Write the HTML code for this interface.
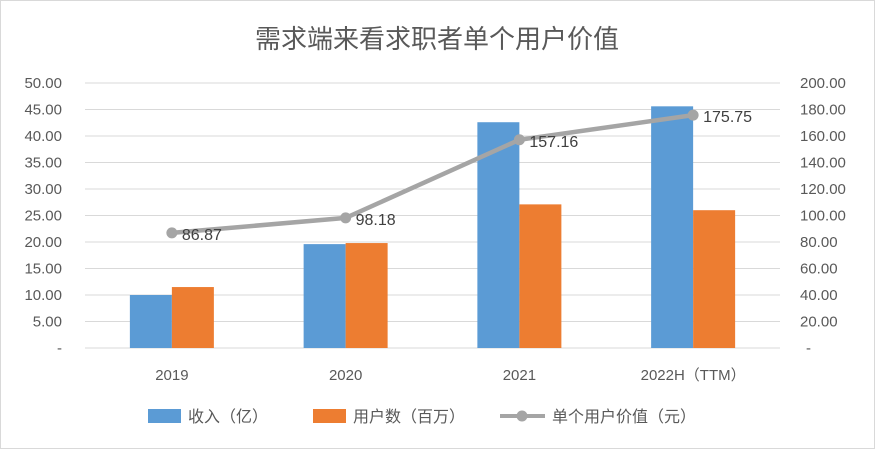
<!DOCTYPE html>
<html><head><meta charset="utf-8"><style>
body{margin:0;background:#fff}
svg text{font-family:"Liberation Sans","Noto Sans CJK SC",sans-serif}
</style></head><body>
<svg width="875" height="449">
<rect x="0.5" y="0.5" width="874" height="448" fill="#fff" stroke="#d9d9d9"/>
<text x="437" y="48" text-anchor="middle" font-size="26" fill="#595959">需求端来看求职者单个用户价值</text>
<g id="grid"></g><g id="bars"></g><g id="line"></g><g id="labels"></g>
<g>
<rect x="148" y="409" width="33" height="14" fill="#5b9bd5"/>
<text x="188" y="422" font-size="16" fill="#595959">收入（亿）</text>
<rect x="313" y="409" width="33" height="14" fill="#ed7d31"/>
<text x="353" y="422" font-size="16" fill="#595959">用户数（百万）</text>
<line x1="500" y1="416" x2="545" y2="416" stroke="#a5a5a5" stroke-width="4"/>
<circle cx="522" cy="416" r="5.5" fill="#a5a5a5"/>
<text x="552" y="422" font-size="16" fill="#595959">单个用户价值（元）</text>
</g>
</svg>
<script>
const categories=["2019","2020","2021","2022H（TTM）"];
const revenue=[10,19.6,42.6,45.6];
const users=[11.5,19.8,27.1,26];
const userValue=[86.87,98.18,157.16,175.75];
const leftTicks=[0,5,10,15,20,25,30,35,40,45,50];
const rightTicks=[0,20,40,60,80,100,120,140,160,180,200];
const NS="http://www.w3.org/2000/svg";
const X0=85,X1=780,Y0=348,Y1=83;
const yL=v=>Y0-(v/50)*(Y0-Y1);
const yR=v=>Y0-(v/200)*(Y0-Y1);
const band=(X1-X0)/categories.length;
const xc=i=>X0+band*(i+0.5);
function mk(tag,attrs,parent,txt){const e=document.createElementNS(NS,tag);for(const k in attrs)e.setAttribute(k,attrs[k]);if(txt!=null)e.textContent=txt;document.getElementById(parent).appendChild(e);return e;}
leftTicks.forEach((t,i)=>{
 if(t>0){const g=mk('line',{x1:X0,x2:X1,y1:yL(t),y2:yL(t),stroke:'#d9d9d9','stroke-width':1},'grid');
 
 }
 const l=mk('text',{x:62,y:yL(t)+5,'text-anchor':'end','font-size':15,fill:'#595959'},'labels',t===0?'-':t.toFixed(2));
 
 
});
rightTicks.forEach(t=>{
 const l=mk('text',{x:t===0?806:800,y:yR(t)+5,'font-size':15,fill:'#595959'},'labels',t===0?'-':t.toFixed(2));
 
 
});
const ax=mk('line',{x1:X0,x2:X1,y1:Y0,y2:Y0,stroke:'#d9d9d9'},'grid');


const bw=42;
categories.forEach((c,i)=>{
 const b1=mk('rect',{x:xc(i)-bw,y:yL(revenue[i]),width:bw,height:Y0-yL(revenue[i]),fill:'#5b9bd5'},'bars');
 
 
 const b2=mk('rect',{x:xc(i),y:yL(users[i]),width:bw,height:Y0-yL(users[i]),fill:'#ed7d31'},'bars');
 
 
 const t=mk('text',{x:xc(i),y:380,'text-anchor':'middle','font-size':15,fill:'#595959'},'labels',c);
 
 
});
const pl=mk('polyline',{points:userValue.map((v,i)=>xc(i)+','+yR(v)).join(' '),fill:'none',stroke:'#a5a5a5','stroke-width':4.5},'line');


userValue.forEach((v,i)=>{
 const c=mk('circle',{cx:xc(i),cy:yR(v),r:5.5,fill:'#a5a5a5'},'line');
 
 
 const t=mk('text',{x:xc(i)+10,y:yR(v)+7,'font-size':16,fill:'#404040'},'line',v.toFixed(2));
 
 
});
</script>
</body></html>
